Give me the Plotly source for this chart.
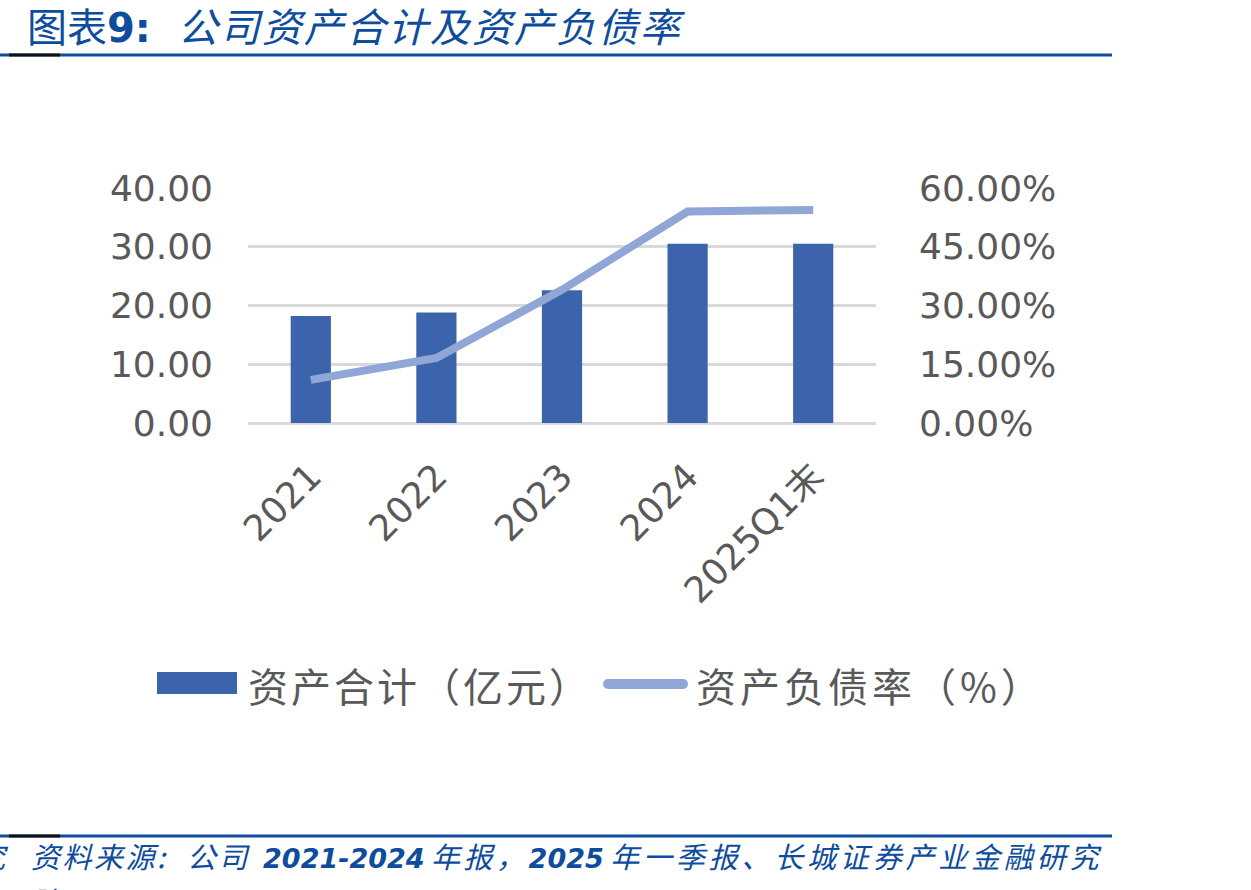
import plotly.graph_objects as go

# ---------------- data ----------------
categories = ["2021", "2022", "2023", "2024", "2025Q1末"]
total_assets = [18.2, 18.8, 22.6, 30.5, 30.5]          # 亿元
debt_ratio = [11.0, 16.6, 34.0, 54.0, 54.4]            # %
left_ticks = [0, 10, 20, 30, 40]
right_ticks = [0, 15, 30, 45, 60]
right_labels = ["0.00%", "15.00%", "30.00%", "45.00%", "60.00%"]

# ---------------- geometry helpers ----------------
W, H = 1251, 890
L, R, T, B = 248, 876, 188, 423
PW, PH = R - L, B - T

def xp(px):
    return (px - L) / PW

def yp(py):
    return (B - py) / PH

BAR_C = "#3C64AC"
LINE_C = "#8FA6D6"
GRID_C = "#D9D9D9"
TXT_C = "#595959"
BLUE = "#0E4C9E"
CJK = "Noto Sans CJK SC"
LAT = "DejaVu Sans"

fig = go.Figure()
fig.add_trace(go.Bar(
    x=categories, y=total_assets, name="资产合计（亿元）",
    marker=dict(color=BAR_C, line=dict(width=0)), width=0.32,
    showlegend=False,
))
fig.add_trace(go.Scatter(
    x=categories, y=debt_ratio, name="资产负债率（%）", yaxis="y2",
    mode="lines", line=dict(color=LINE_C, width=8), showlegend=False,
))

fig.update_layout(
    width=W, height=H,
    margin=dict(l=L, r=W - R, t=T, b=H - B, pad=0),
    paper_bgcolor="white", plot_bgcolor="white",
    font=dict(family=f"{LAT}, {CJK}", size=36, color=TXT_C),
    xaxis=dict(
        type="category", tickangle=-45, showgrid=False, showline=False,
        zeroline=False, ticks="", ticklabelstandoff=24,
        tickfont=dict(family=f"{LAT}, {CJK}", size=36, color=TXT_C),
    ),
    yaxis=dict(
        range=[0, 40], tickvals=left_ticks, tickformat=".2f",
        showgrid=True, gridcolor=GRID_C, gridwidth=2.5,
        zeroline=True, zerolinecolor=GRID_C, zerolinewidth=2.5,
        showline=False, ticks="", ticklabelstandoff=34,
        tickfont=dict(family=LAT, size=36, color=TXT_C),
    ),
    yaxis2=dict(
        range=[0, 60], tickvals=right_ticks, ticktext=right_labels,
        overlaying="y", side="right", showgrid=False, zeroline=False,
        showline=False, ticks="", ticklabelstandoff=42,
        tickfont=dict(family=LAT, size=36, color=TXT_C),
    ),
)

shapes = []
# header / footer rules
for py in (55, 836):
    shapes.append(dict(type="line", xref="paper", yref="paper",
                       x0=xp(0), x1=xp(1112), y0=yp(py), y1=yp(py),
                       line=dict(color=BLUE, width=3)))
    shapes.append(dict(type="line", xref="paper", yref="paper",
                       x0=xp(9), x1=xp(60), y0=yp(py), y1=yp(py),
                       line=dict(color="#111111", width=3)))
# legend swatches
shapes.append(dict(type="rect", xref="paper", yref="paper",
                   x0=xp(157), x1=xp(237), y0=yp(694), y1=yp(672),
                   fillcolor=BAR_C, line=dict(width=0)))
shapes.append(dict(type="rect", xref="paper", yref="paper",
                   x0=xp(608), x1=xp(683), y0=yp(689), y1=yp(679),
                   fillcolor=LINE_C, line=dict(width=0)))
for cx in (608, 683):
    shapes.append(dict(type="circle", xref="paper", yref="paper",
                       x0=xp(cx - 5), x1=xp(cx + 5), y0=yp(689), y1=yp(679),
                       fillcolor=LINE_C, line=dict(width=0)))
fig.update_layout(shapes=shapes)

def ann(text, px, py, size, color, family=CJK, xanchor="left"):
    fig.add_annotation(text=text, xref="paper", yref="paper",
                       x=xp(px), y=yp(py), xanchor=xanchor, yanchor="middle",
                       showarrow=False, align="left",
                       font=dict(family=family, size=size, color=color))

NB = "\u00a0"

def sp(t, ls, extra=""):
    return f"<span style=\"letter-spacing:{ls}px;{extra}\">{t}</span>"

ann("图表" + sp("9:", 0, f"font-family:{LAT};font-weight:bold") + NB * 3
    + "<i>" + sp("公司资产合计及资产负债率", 2) + "</i>",
    25, 25, 40, BLUE)
ann(sp("资产合计（亿元）", 3), 246, 685, 40, TXT_C)
ann(sp("资产负债率（%）", 4), 694, 685, 40, TXT_C)
digit = f"font-family:{LAT};font-weight:bold;font-size:27px"
ann("<i>" + sp("资料来源:", 2.5) + NB * 3 + sp("公司", 2.5) + NB * 2
    + sp("2021-2024", 0, digit) + NB + sp("年报，", 3.5)
    + sp("2025", 0, digit) + NB + sp("年一季报、长城证券产业金融研究", 3.8) + "</i>",
    29, 855, 29, BLUE)
ann("<i>究</i>", 11, 855, 29, BLUE, xanchor="right")
ann("<i>院</i>", 29, 900, 29, BLUE)

fig.write_html("out.html")
